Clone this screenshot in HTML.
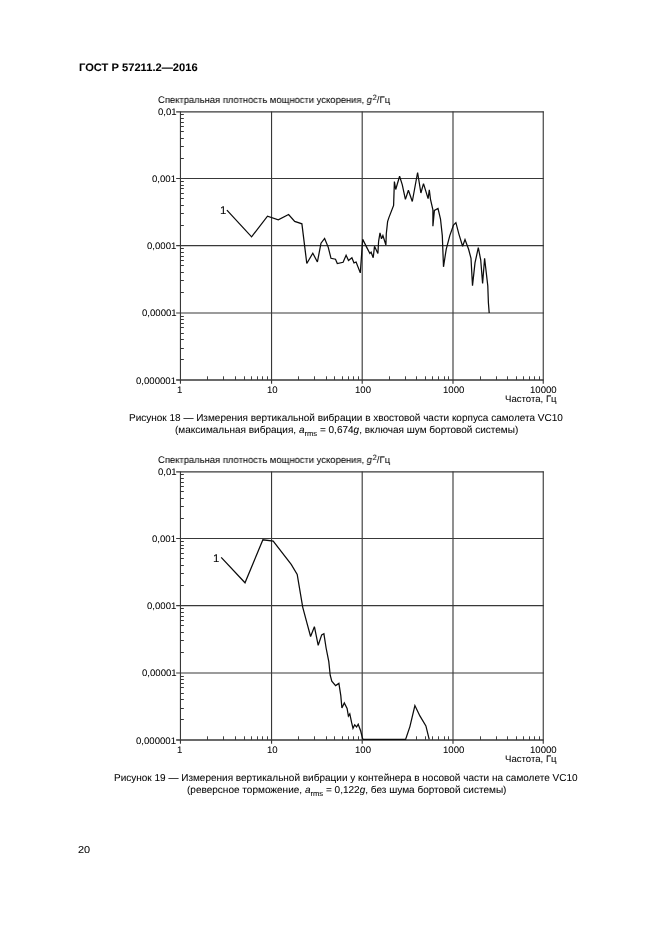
<!DOCTYPE html>
<html><head><meta charset="utf-8"><title>ГОСТ Р 57211.2—2016</title>
<style>
html,body{margin:0;padding:0;background:#fff;}
body{width:661px;height:935px;position:relative;overflow:hidden;font-family:"Liberation Sans",sans-serif;color:#000;-webkit-text-stroke:0.06px #000;text-rendering:geometricPrecision;}
.t{position:absolute;white-space:nowrap;line-height:1;transform-origin:0 0;will-change:transform;}
.b{font-weight:bold;}
sup{margin-left:0.7px;font-size:0.8em;vertical-align:baseline;position:relative;top:-0.42em;line-height:0;}
sub{font-size:0.76em;vertical-align:baseline;position:relative;top:0.36em;line-height:0;}
</style></head><body>
<svg width="661" height="935" viewBox="0 0 661 935" style="position:absolute;left:0;top:0">
<line x1="180.45" y1="111.40" x2="180.45" y2="383.80" stroke="#383838" stroke-width="1.12"/>
<line x1="176.15" y1="111.90" x2="543.80" y2="111.90" stroke="#383838" stroke-width="1.12"/>
<line x1="271.55" y1="111.40" x2="271.55" y2="383.80" stroke="#383838" stroke-width="1.12"/>
<line x1="176.15" y1="178.55" x2="543.80" y2="178.55" stroke="#383838" stroke-width="1.12"/>
<line x1="362.20" y1="111.40" x2="362.20" y2="383.80" stroke="#383838" stroke-width="1.12"/>
<line x1="176.15" y1="245.65" x2="543.80" y2="245.65" stroke="#383838" stroke-width="1.12"/>
<line x1="453.00" y1="111.40" x2="453.00" y2="383.80" stroke="#383838" stroke-width="1.12"/>
<line x1="176.15" y1="313.00" x2="543.80" y2="313.00" stroke="#383838" stroke-width="1.12"/>
<line x1="543.25" y1="111.40" x2="543.25" y2="383.80" stroke="#383838" stroke-width="1.12"/>
<line x1="176.15" y1="380.00" x2="543.80" y2="380.00" stroke="#383838" stroke-width="1.6"/>
<line x1="180.45" y1="158.50" x2="183.85" y2="158.50" stroke="#383838" stroke-width="1"/>
<line x1="207.50" y1="380.00" x2="207.50" y2="376.30" stroke="#383838" stroke-width="0.95"/>
<line x1="180.45" y1="146.50" x2="183.85" y2="146.50" stroke="#383838" stroke-width="1"/>
<line x1="223.50" y1="380.00" x2="223.50" y2="376.30" stroke="#383838" stroke-width="0.95"/>
<line x1="180.45" y1="138.50" x2="183.85" y2="138.50" stroke="#383838" stroke-width="1"/>
<line x1="235.50" y1="380.00" x2="235.50" y2="376.30" stroke="#383838" stroke-width="0.95"/>
<line x1="180.45" y1="131.50" x2="183.85" y2="131.50" stroke="#383838" stroke-width="1"/>
<line x1="244.50" y1="380.00" x2="244.50" y2="376.30" stroke="#383838" stroke-width="0.95"/>
<line x1="180.45" y1="126.50" x2="183.85" y2="126.50" stroke="#383838" stroke-width="1"/>
<line x1="251.50" y1="380.00" x2="251.50" y2="376.30" stroke="#383838" stroke-width="0.95"/>
<line x1="180.45" y1="122.50" x2="183.85" y2="122.50" stroke="#383838" stroke-width="1"/>
<line x1="257.50" y1="380.00" x2="257.50" y2="376.30" stroke="#383838" stroke-width="0.95"/>
<line x1="180.45" y1="118.50" x2="183.85" y2="118.50" stroke="#383838" stroke-width="1"/>
<line x1="262.50" y1="380.00" x2="262.50" y2="376.30" stroke="#383838" stroke-width="0.95"/>
<line x1="180.45" y1="114.50" x2="183.85" y2="114.50" stroke="#383838" stroke-width="1"/>
<line x1="267.50" y1="380.00" x2="267.50" y2="376.30" stroke="#383838" stroke-width="0.95"/>
<line x1="180.45" y1="225.50" x2="183.85" y2="225.50" stroke="#383838" stroke-width="1"/>
<line x1="298.50" y1="380.00" x2="298.50" y2="376.30" stroke="#383838" stroke-width="0.95"/>
<line x1="180.45" y1="213.50" x2="183.85" y2="213.50" stroke="#383838" stroke-width="1"/>
<line x1="314.50" y1="380.00" x2="314.50" y2="376.30" stroke="#383838" stroke-width="0.95"/>
<line x1="180.45" y1="205.50" x2="183.85" y2="205.50" stroke="#383838" stroke-width="1"/>
<line x1="326.50" y1="380.00" x2="326.50" y2="376.30" stroke="#383838" stroke-width="0.95"/>
<line x1="180.45" y1="198.50" x2="183.85" y2="198.50" stroke="#383838" stroke-width="1"/>
<line x1="334.50" y1="380.00" x2="334.50" y2="376.30" stroke="#383838" stroke-width="0.95"/>
<line x1="180.45" y1="193.50" x2="183.85" y2="193.50" stroke="#383838" stroke-width="1"/>
<line x1="342.50" y1="380.00" x2="342.50" y2="376.30" stroke="#383838" stroke-width="0.95"/>
<line x1="180.45" y1="188.50" x2="183.85" y2="188.50" stroke="#383838" stroke-width="1"/>
<line x1="348.50" y1="380.00" x2="348.50" y2="376.30" stroke="#383838" stroke-width="0.95"/>
<line x1="180.45" y1="185.50" x2="183.85" y2="185.50" stroke="#383838" stroke-width="1"/>
<line x1="353.50" y1="380.00" x2="353.50" y2="376.30" stroke="#383838" stroke-width="0.95"/>
<line x1="180.45" y1="181.50" x2="183.85" y2="181.50" stroke="#383838" stroke-width="1"/>
<line x1="358.50" y1="380.00" x2="358.50" y2="376.30" stroke="#383838" stroke-width="0.95"/>
<line x1="180.45" y1="292.50" x2="183.85" y2="292.50" stroke="#383838" stroke-width="1"/>
<line x1="389.50" y1="380.00" x2="389.50" y2="376.30" stroke="#383838" stroke-width="0.95"/>
<line x1="180.45" y1="280.50" x2="183.85" y2="280.50" stroke="#383838" stroke-width="1"/>
<line x1="405.50" y1="380.00" x2="405.50" y2="376.30" stroke="#383838" stroke-width="0.95"/>
<line x1="180.45" y1="272.50" x2="183.85" y2="272.50" stroke="#383838" stroke-width="1"/>
<line x1="416.50" y1="380.00" x2="416.50" y2="376.30" stroke="#383838" stroke-width="0.95"/>
<line x1="180.45" y1="265.50" x2="183.85" y2="265.50" stroke="#383838" stroke-width="1"/>
<line x1="425.50" y1="380.00" x2="425.50" y2="376.30" stroke="#383838" stroke-width="0.95"/>
<line x1="180.45" y1="260.50" x2="183.85" y2="260.50" stroke="#383838" stroke-width="1"/>
<line x1="432.50" y1="380.00" x2="432.50" y2="376.30" stroke="#383838" stroke-width="0.95"/>
<line x1="180.45" y1="256.50" x2="183.85" y2="256.50" stroke="#383838" stroke-width="1"/>
<line x1="438.50" y1="380.00" x2="438.50" y2="376.30" stroke="#383838" stroke-width="0.95"/>
<line x1="180.45" y1="252.50" x2="183.85" y2="252.50" stroke="#383838" stroke-width="1"/>
<line x1="444.50" y1="380.00" x2="444.50" y2="376.30" stroke="#383838" stroke-width="0.95"/>
<line x1="180.45" y1="248.50" x2="183.85" y2="248.50" stroke="#383838" stroke-width="1"/>
<line x1="448.50" y1="380.00" x2="448.50" y2="376.30" stroke="#383838" stroke-width="0.95"/>
<line x1="180.45" y1="359.50" x2="183.85" y2="359.50" stroke="#383838" stroke-width="1"/>
<line x1="480.50" y1="380.00" x2="480.50" y2="376.30" stroke="#383838" stroke-width="0.95"/>
<line x1="180.45" y1="348.50" x2="183.85" y2="348.50" stroke="#383838" stroke-width="1"/>
<line x1="496.50" y1="380.00" x2="496.50" y2="376.30" stroke="#383838" stroke-width="0.95"/>
<line x1="180.45" y1="339.50" x2="183.85" y2="339.50" stroke="#383838" stroke-width="1"/>
<line x1="507.50" y1="380.00" x2="507.50" y2="376.30" stroke="#383838" stroke-width="0.95"/>
<line x1="180.45" y1="333.50" x2="183.85" y2="333.50" stroke="#383838" stroke-width="1"/>
<line x1="516.50" y1="380.00" x2="516.50" y2="376.30" stroke="#383838" stroke-width="0.95"/>
<line x1="180.45" y1="327.50" x2="183.85" y2="327.50" stroke="#383838" stroke-width="1"/>
<line x1="523.50" y1="380.00" x2="523.50" y2="376.30" stroke="#383838" stroke-width="0.95"/>
<line x1="180.45" y1="323.50" x2="183.85" y2="323.50" stroke="#383838" stroke-width="1"/>
<line x1="529.50" y1="380.00" x2="529.50" y2="376.30" stroke="#383838" stroke-width="0.95"/>
<line x1="180.45" y1="319.50" x2="183.85" y2="319.50" stroke="#383838" stroke-width="1"/>
<line x1="534.50" y1="380.00" x2="534.50" y2="376.30" stroke="#383838" stroke-width="0.95"/>
<line x1="180.45" y1="316.50" x2="183.85" y2="316.50" stroke="#383838" stroke-width="1"/>
<line x1="539.50" y1="380.00" x2="539.50" y2="376.30" stroke="#383838" stroke-width="0.95"/>
<polyline points="226.9,210.1 251.6,236.8 267.5,216.2 278.3,219.9 288.6,214.5 294.7,221.4 301.9,223.8 306.8,263.5 312.8,253.2 317.4,262.0 321.0,243.2 324.6,238.4 328.2,247.1 331.0,258.3 335.5,259.2 337.3,263.5 343.1,262.3 346.1,255.3 348.5,260.5 351.9,257.7 354.0,262.9 356.1,262.0 360.3,272.9 362.7,239.3 366.6,247.1 369.9,253.5 371.1,252.2 373.2,257.8 374.5,246.2 377.9,253.5 378.6,241.3 380.0,232.9 381.5,238.8 382.9,235.6 385.9,245.0 386.3,233.7 387.6,221.6 388.8,217.9 393.6,205.4 394.4,181.6 395.7,189.5 399.6,176.2 402.3,184.8 405.4,199.4 408.4,190.3 412.3,201.5 417.6,172.5 420.9,193.0 423.5,183.6 428.1,198.6 429.3,189.8 430.5,199.3 432.9,209.9 432.9,226.2 434.4,210.5 438.0,208.4 440.5,219.0 442.3,235.6 443.5,266.8 446.2,249.3 449.8,235.6 453.5,225.0 455.9,222.6 458.9,234.1 462.6,246.2 465.0,239.6 468.6,249.3 471.0,258.3 472.5,285.6 475.0,262.9 478.3,247.7 480.7,259.8 482.6,283.4 484.6,258.3 487.8,286.0 488.4,302.7 489.2,313.0" fill="none" stroke="#0c0c0c" stroke-width="1.25" stroke-linejoin="miter" stroke-miterlimit="3"/>
<line x1="180.45" y1="471.40" x2="180.45" y2="743.80" stroke="#383838" stroke-width="1.12"/>
<line x1="176.15" y1="471.90" x2="543.80" y2="471.90" stroke="#383838" stroke-width="1.12"/>
<line x1="271.55" y1="471.40" x2="271.55" y2="743.80" stroke="#383838" stroke-width="1.12"/>
<line x1="176.15" y1="538.55" x2="543.80" y2="538.55" stroke="#383838" stroke-width="1.12"/>
<line x1="362.20" y1="471.40" x2="362.20" y2="743.80" stroke="#383838" stroke-width="1.12"/>
<line x1="176.15" y1="605.65" x2="543.80" y2="605.65" stroke="#383838" stroke-width="1.12"/>
<line x1="453.00" y1="471.40" x2="453.00" y2="743.80" stroke="#383838" stroke-width="1.12"/>
<line x1="176.15" y1="673.00" x2="543.80" y2="673.00" stroke="#383838" stroke-width="1.12"/>
<line x1="543.25" y1="471.40" x2="543.25" y2="743.80" stroke="#383838" stroke-width="1.12"/>
<line x1="176.15" y1="740.00" x2="543.80" y2="740.00" stroke="#383838" stroke-width="1.6"/>
<line x1="180.45" y1="518.50" x2="183.85" y2="518.50" stroke="#383838" stroke-width="1"/>
<line x1="207.50" y1="740.00" x2="207.50" y2="736.30" stroke="#383838" stroke-width="0.95"/>
<line x1="180.45" y1="506.50" x2="183.85" y2="506.50" stroke="#383838" stroke-width="1"/>
<line x1="223.50" y1="740.00" x2="223.50" y2="736.30" stroke="#383838" stroke-width="0.95"/>
<line x1="180.45" y1="498.50" x2="183.85" y2="498.50" stroke="#383838" stroke-width="1"/>
<line x1="235.50" y1="740.00" x2="235.50" y2="736.30" stroke="#383838" stroke-width="0.95"/>
<line x1="180.45" y1="491.50" x2="183.85" y2="491.50" stroke="#383838" stroke-width="1"/>
<line x1="244.50" y1="740.00" x2="244.50" y2="736.30" stroke="#383838" stroke-width="0.95"/>
<line x1="180.45" y1="486.50" x2="183.85" y2="486.50" stroke="#383838" stroke-width="1"/>
<line x1="251.50" y1="740.00" x2="251.50" y2="736.30" stroke="#383838" stroke-width="0.95"/>
<line x1="180.45" y1="482.50" x2="183.85" y2="482.50" stroke="#383838" stroke-width="1"/>
<line x1="257.50" y1="740.00" x2="257.50" y2="736.30" stroke="#383838" stroke-width="0.95"/>
<line x1="180.45" y1="478.50" x2="183.85" y2="478.50" stroke="#383838" stroke-width="1"/>
<line x1="262.50" y1="740.00" x2="262.50" y2="736.30" stroke="#383838" stroke-width="0.95"/>
<line x1="180.45" y1="474.50" x2="183.85" y2="474.50" stroke="#383838" stroke-width="1"/>
<line x1="267.50" y1="740.00" x2="267.50" y2="736.30" stroke="#383838" stroke-width="0.95"/>
<line x1="180.45" y1="585.50" x2="183.85" y2="585.50" stroke="#383838" stroke-width="1"/>
<line x1="298.50" y1="740.00" x2="298.50" y2="736.30" stroke="#383838" stroke-width="0.95"/>
<line x1="180.45" y1="573.50" x2="183.85" y2="573.50" stroke="#383838" stroke-width="1"/>
<line x1="314.50" y1="740.00" x2="314.50" y2="736.30" stroke="#383838" stroke-width="0.95"/>
<line x1="180.45" y1="565.50" x2="183.85" y2="565.50" stroke="#383838" stroke-width="1"/>
<line x1="326.50" y1="740.00" x2="326.50" y2="736.30" stroke="#383838" stroke-width="0.95"/>
<line x1="180.45" y1="558.50" x2="183.85" y2="558.50" stroke="#383838" stroke-width="1"/>
<line x1="334.50" y1="740.00" x2="334.50" y2="736.30" stroke="#383838" stroke-width="0.95"/>
<line x1="180.45" y1="553.50" x2="183.85" y2="553.50" stroke="#383838" stroke-width="1"/>
<line x1="342.50" y1="740.00" x2="342.50" y2="736.30" stroke="#383838" stroke-width="0.95"/>
<line x1="180.45" y1="548.50" x2="183.85" y2="548.50" stroke="#383838" stroke-width="1"/>
<line x1="348.50" y1="740.00" x2="348.50" y2="736.30" stroke="#383838" stroke-width="0.95"/>
<line x1="180.45" y1="545.50" x2="183.85" y2="545.50" stroke="#383838" stroke-width="1"/>
<line x1="353.50" y1="740.00" x2="353.50" y2="736.30" stroke="#383838" stroke-width="0.95"/>
<line x1="180.45" y1="541.50" x2="183.85" y2="541.50" stroke="#383838" stroke-width="1"/>
<line x1="358.50" y1="740.00" x2="358.50" y2="736.30" stroke="#383838" stroke-width="0.95"/>
<line x1="180.45" y1="652.50" x2="183.85" y2="652.50" stroke="#383838" stroke-width="1"/>
<line x1="180.45" y1="640.50" x2="183.85" y2="640.50" stroke="#383838" stroke-width="1"/>
<line x1="180.45" y1="632.50" x2="183.85" y2="632.50" stroke="#383838" stroke-width="1"/>
<line x1="416.50" y1="740.00" x2="416.50" y2="736.30" stroke="#383838" stroke-width="0.95"/>
<line x1="180.45" y1="625.50" x2="183.85" y2="625.50" stroke="#383838" stroke-width="1"/>
<line x1="425.50" y1="740.00" x2="425.50" y2="736.30" stroke="#383838" stroke-width="0.95"/>
<line x1="180.45" y1="620.50" x2="183.85" y2="620.50" stroke="#383838" stroke-width="1"/>
<line x1="432.50" y1="740.00" x2="432.50" y2="736.30" stroke="#383838" stroke-width="0.95"/>
<line x1="180.45" y1="616.50" x2="183.85" y2="616.50" stroke="#383838" stroke-width="1"/>
<line x1="438.50" y1="740.00" x2="438.50" y2="736.30" stroke="#383838" stroke-width="0.95"/>
<line x1="180.45" y1="612.50" x2="183.85" y2="612.50" stroke="#383838" stroke-width="1"/>
<line x1="444.50" y1="740.00" x2="444.50" y2="736.30" stroke="#383838" stroke-width="0.95"/>
<line x1="180.45" y1="608.50" x2="183.85" y2="608.50" stroke="#383838" stroke-width="1"/>
<line x1="448.50" y1="740.00" x2="448.50" y2="736.30" stroke="#383838" stroke-width="0.95"/>
<line x1="180.45" y1="719.50" x2="183.85" y2="719.50" stroke="#383838" stroke-width="1"/>
<line x1="480.50" y1="740.00" x2="480.50" y2="736.30" stroke="#383838" stroke-width="0.95"/>
<line x1="180.45" y1="708.50" x2="183.85" y2="708.50" stroke="#383838" stroke-width="1"/>
<line x1="496.50" y1="740.00" x2="496.50" y2="736.30" stroke="#383838" stroke-width="0.95"/>
<line x1="180.45" y1="699.50" x2="183.85" y2="699.50" stroke="#383838" stroke-width="1"/>
<line x1="507.50" y1="740.00" x2="507.50" y2="736.30" stroke="#383838" stroke-width="0.95"/>
<line x1="180.45" y1="693.50" x2="183.85" y2="693.50" stroke="#383838" stroke-width="1"/>
<line x1="516.50" y1="740.00" x2="516.50" y2="736.30" stroke="#383838" stroke-width="0.95"/>
<line x1="180.45" y1="687.50" x2="183.85" y2="687.50" stroke="#383838" stroke-width="1"/>
<line x1="523.50" y1="740.00" x2="523.50" y2="736.30" stroke="#383838" stroke-width="0.95"/>
<line x1="180.45" y1="683.50" x2="183.85" y2="683.50" stroke="#383838" stroke-width="1"/>
<line x1="529.50" y1="740.00" x2="529.50" y2="736.30" stroke="#383838" stroke-width="0.95"/>
<line x1="180.45" y1="679.50" x2="183.85" y2="679.50" stroke="#383838" stroke-width="1"/>
<line x1="534.50" y1="740.00" x2="534.50" y2="736.30" stroke="#383838" stroke-width="0.95"/>
<line x1="180.45" y1="676.50" x2="183.85" y2="676.50" stroke="#383838" stroke-width="1"/>
<line x1="539.50" y1="740.00" x2="539.50" y2="736.30" stroke="#383838" stroke-width="0.95"/>
<polyline points="221.2,557.4 245.0,582.8 262.9,539.8 273.2,541.1 291.2,564.4 297.2,574.5 302.7,607.1 306.7,622.1 310.6,636.5 314.4,626.7 318.2,645.3 321.7,634.9 323.9,633.8 326.1,648.0 328.8,661.6 330.2,675.2 331.8,681.2 335.6,685.6 338.9,683.4 340.8,695.6 341.9,707.9 344.3,703.0 347.1,708.4 348.4,716.1 349.8,713.9 351.7,722.9 353.0,728.3 354.7,724.8 356.6,727.0 358.2,724.2 360.7,731.0 362.6,738.7 363.3,739.4 405.6,739.4 409.9,726.6 414.9,705.6 419.9,715.9 425.9,725.9 429.2,739.4" fill="none" stroke="#0c0c0c" stroke-width="1.25" stroke-linejoin="miter" stroke-miterlimit="3"/>
</svg>
<div id="yt0" class="t " style="left:157.85px;top:96px;font-size:9.6px;transform:scaleX(0.9824);">Спектральная плотность мощности ускорения, <i>g</i><sup>2</sup>/Гц</div>
<div id="yl00" class="t " style="left:157.81px;top:108px;font-size:9.6px;">0,01</div>
<div id="yl01" class="t " style="left:152.48px;top:175px;font-size:9.6px;">0,001</div>
<div id="yl02" class="t " style="left:147.16px;top:242px;font-size:9.6px;">0,0001</div>
<div id="yl03" class="t " style="left:141.81px;top:309px;font-size:9.6px;">0,00001</div>
<div id="yl04" class="t " style="left:136.48px;top:377px;font-size:9.6px;">0,000001</div>
<div id="xl00" class="t " style="left:177.28px;top:386px;font-size:9.6px;">1</div>
<div id="xl01" class="t " style="left:266.66px;top:386px;font-size:9.6px;">10</div>
<div id="xl02" class="t " style="left:354.64px;top:386px;font-size:9.6px;">100</div>
<div id="xl03" class="t " style="left:442.78px;top:386px;font-size:9.6px;">1000</div>
<div id="xl04" class="t " style="left:530.36px;top:386px;font-size:9.6px;">10000</div>
<div id="fr0" class="t " style="left:504.81px;top:395px;font-size:9.6px;">Частота, Гц</div>
<div id="yt1" class="t " style="left:157.85px;top:456px;font-size:9.6px;transform:scaleX(0.9824);">Спектральная плотность мощности ускорения, <i>g</i><sup>2</sup>/Гц</div>
<div id="yl10" class="t " style="left:157.81px;top:468px;font-size:9.6px;">0,01</div>
<div id="yl11" class="t " style="left:152.48px;top:535px;font-size:9.6px;">0,001</div>
<div id="yl12" class="t " style="left:147.16px;top:602px;font-size:9.6px;">0,0001</div>
<div id="yl13" class="t " style="left:141.81px;top:669px;font-size:9.6px;">0,00001</div>
<div id="yl14" class="t " style="left:136.48px;top:737px;font-size:9.6px;">0,000001</div>
<div id="xl10" class="t " style="left:177.28px;top:746px;font-size:9.6px;">1</div>
<div id="xl11" class="t " style="left:266.66px;top:746px;font-size:9.6px;">10</div>
<div id="xl12" class="t " style="left:354.64px;top:746px;font-size:9.6px;">100</div>
<div id="xl13" class="t " style="left:442.78px;top:746px;font-size:9.6px;">1000</div>
<div id="xl14" class="t " style="left:530.36px;top:746px;font-size:9.6px;">10000</div>
<div id="fr1" class="t " style="left:504.81px;top:755px;font-size:9.6px;">Частота, Гц</div>
<div id="lab0" class="t " style="left:219.80px;top:206px;font-size:11.4px;">1</div>
<div id="lab1" class="t " style="left:212.90px;top:554px;font-size:11.4px;">1</div>
<div id="hdr" class="t b" style="left:78.55px;top:63px;font-size:10.9px;transform:scaleX(1.0228);">ГОСТ Р 57211.2—2016</div>
<div id="pg" class="t " style="left:78.00px;top:846px;font-size:10.0px;transform:scaleX(1.0900);">20</div>
<div id="c1a" class="t " style="left:129.00px;top:414px;font-size:10.0px;">Рисунок 18 — Измерения вертикальной вибрации в хвостовой части корпуса самолета VC10</div>
<div id="c1b" class="t " style="left:175.00px;top:426px;font-size:10.0px;transform:scaleX(1.0019);">(максимальная вибрация, <i>a</i><sub>rms</sub> = 0,674<i>g</i>, включая шум бортовой системы)</div>
<div id="c2a" class="t " style="left:114.00px;top:774px;font-size:10.0px;transform:scaleX(1.0004);">Рисунок 19 — Измерения вертикальной вибрации у контейнера в носовой части на самолете VC10</div>
<div id="c2b" class="t " style="left:187.00px;top:786px;font-size:10.0px;transform:scaleX(1.0027);">(реверсное торможение, <i>a</i><sub>rms</sub> = 0,122<i>g</i>, без шума бортовой системы)</div>
</body></html>
